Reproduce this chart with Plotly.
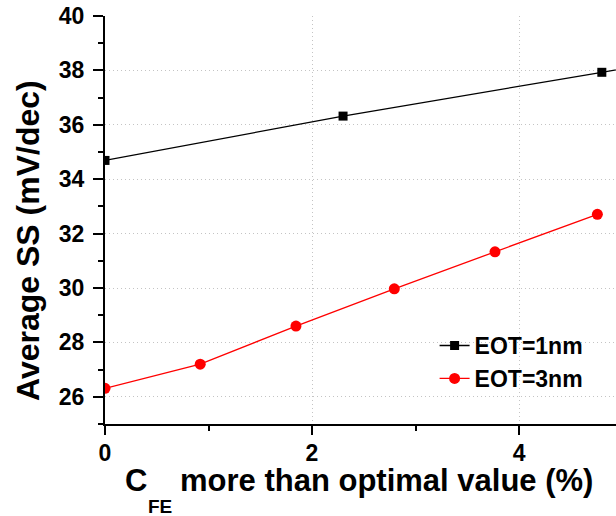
import plotly.graph_objects as go

# ---- data ----
eot1_x = [0.0, 2.30, 4.80, 7.30]
eot1_y = [34.69, 36.32, 37.93, 39.5]
eot3_x = [0.0, 0.92, 1.845, 2.795, 3.768, 4.757]
eot3_y = [26.31, 27.20, 28.60, 29.97, 31.33, 32.71]
series_names = ["EOT=1nm", "EOT=3nm"]
x_tickvals = [0, 2, 4]
y_tickvals = [26, 28, 30, 32, 34, 36, 38, 40]
x_range = [0, 4.937]
y_range = [25, 40]

FONT = "Arial, Liberation Sans, sans-serif"
W, H = 616, 516
L, R, T, B = 105, 0, 16, 92

fig = go.Figure()
fig.add_trace(go.Scatter(
    x=eot1_x, y=eot1_y, name="<b>%s</b>" % series_names[0], mode="lines+markers",
    line=dict(color="black", width=1.3),
    marker=dict(symbol="square", size=9, color="black"),
))
fig.add_trace(go.Scatter(
    x=eot3_x, y=eot3_y, name="<b>%s</b>" % series_names[1], mode="lines+markers",
    line=dict(color="#ff0000", width=1.3),
    marker=dict(symbol="circle", size=11, color="#ff0000"),
))

grid = dict(showgrid=True, gridcolor="#c4c4c4", gridwidth=1, griddash="1px,3px")

fig.update_layout(
    width=W, height=H, autosize=False,
    margin=dict(l=L, r=R, t=T, b=B, pad=0),
    paper_bgcolor="white", plot_bgcolor="white",
    showlegend=True,
    legend=dict(
        x=0.645, y=0.245, xanchor="left", yanchor="top",
        bgcolor="rgba(0,0,0,0)", borderwidth=0,
        font=dict(family=FONT, size=23, color="black"),
        tracegroupgap=0,
    ),
)
fig.update_xaxes(
    range=x_range, tickmode="array", tickvals=x_tickvals,
    ticktext=["<b>%d</b>" % v for v in x_tickvals],
    ticks="outside", ticklen=9, tickwidth=2, tickcolor="black",
    showline=True, linewidth=2, linecolor="black", zeroline=False,
    tickfont_family=FONT, tickfont_size=23, tickfont_color="black",
    ticklabelstandoff=-2,
    minor=dict(dtick=1, tick0=0, ticks="outside", ticklen=5, tickwidth=2, tickcolor="black", showgrid=False),
    **grid,
)
fig.update_yaxes(
    range=y_range, tickmode="array", tickvals=y_tickvals,
    ticktext=["<b>%d</b>" % v for v in y_tickvals],
    ticks="outside", ticklen=10, tickwidth=2, tickcolor="black",
    showline=True, linewidth=2, linecolor="black", zeroline=False,
    tickfont_family=FONT, tickfont_size=23, tickfont_color="black",
    ticklabelstandoff=4,
    minor=dict(dtick=1, tick0=0, ticks="outside", ticklen=5, tickwidth=2, tickcolor="black", showgrid=False),
    **grid,
)
fig.update_layout(
    xaxis2=dict(
        range=x_range, overlaying="x", side="top", anchor="y",
        tickmode="array", tickvals=x_tickvals, ticks="inside", ticklen=9, tickwidth=2, tickcolor="black",
        showline=True, linewidth=2, linecolor="black", zeroline=False,
        showticklabels=False, showgrid=False,
        minor=dict(dtick=1, tick0=0, ticks="inside", ticklen=5, tickwidth=2, tickcolor="black", showgrid=False),
    ),
    yaxis2=dict(
        range=y_range, overlaying="y", side="right", anchor="x",
        tickmode="array", tickvals=y_tickvals, ticks="inside", ticklen=5, tickwidth=2, tickcolor="black",
        showline=False, zeroline=False, showticklabels=False, showgrid=False,
    ),
)

def px_x(p):
    return (p - L) / (W - L - R)

def px_y(p):
    return (H - B - p) / (H - T - B)

# y axis title
fig.add_annotation(
    text="<b>Average SS (mV/dec)</b>", xref="paper", yref="paper",
    x=px_x(28), y=px_y(241), xanchor="center", yanchor="middle",
    textangle=-90, showarrow=False,
    font=dict(family=FONT, size=32, color="black"),
)
# x axis title (with subscript)
fig.add_annotation(
    text="<b>C</b>", xref="paper", yref="paper",
    x=px_x(123), y=px_y(480), xanchor="left", yanchor="middle",
    showarrow=False, font=dict(family=FONT, size=31, color="black"),
)
fig.add_annotation(
    text="<b>FE</b>", xref="paper", yref="paper",
    x=px_x(146), y=px_y(506), xanchor="left", yanchor="middle",
    showarrow=False, font=dict(family=FONT, size=19, color="black"),
)
fig.add_annotation(
    text="<b>more than optimal value (%)</b>", xref="paper", yref="paper",
    x=px_x(178), y=px_y(480), xanchor="left", yanchor="middle",
    showarrow=False, font=dict(family=FONT, size=31, color="black"),
)

fig.write_html("out.html")
